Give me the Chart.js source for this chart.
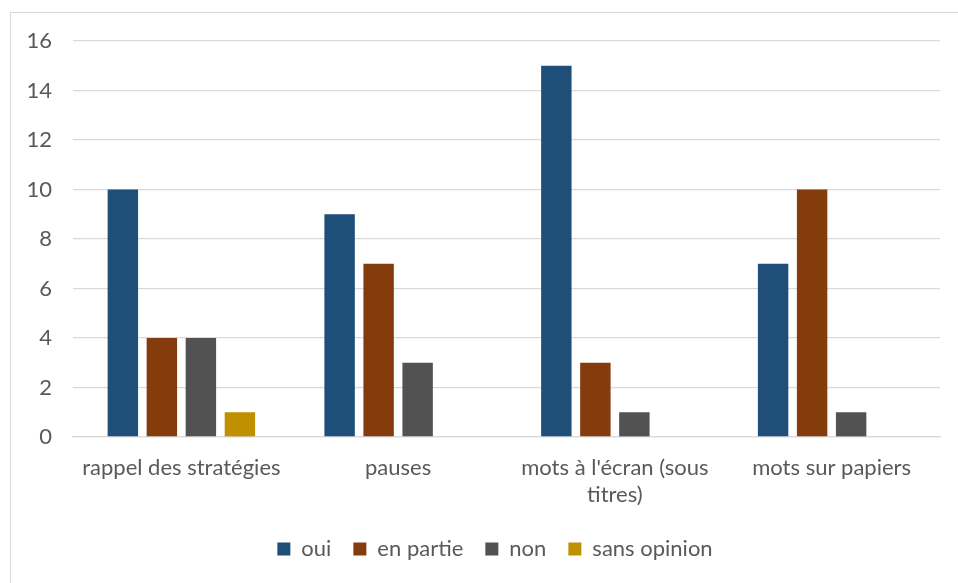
<!DOCTYPE html>
<html>
<head>
<meta charset="utf-8">
<script src="https://cdn.jsdelivr.net/npm/chart.js@4"></script>
<style>
html,body{margin:0;padding:0;background:#fff;}
#wrap{position:relative;width:958px;height:583px;}
#frame{position:absolute;left:10px;top:12px;width:960px;height:600px;border:1px solid #d9d9d9;box-sizing:border-box;pointer-events:none;}
canvas{position:absolute;left:0;top:0;}
</style>
</head>
<body>
<div id="wrap">
<canvas id="c" width="958" height="583"></canvas>
<div id="frame"></div>
</div>
<script>
const categories = ["rappel des stratégies", "pauses", ["mots à l'écran (sous", "titres)"], "mots sur papiers"];
const seriesNames = ["oui", "en partie", "non", "sans opinion"];
const oui = [10, 9, 15, 7];
const enPartie = [4, 7, 3, 10];
const non = [4, 3, 1, 1];
const sansOpinion = [1, 0, 0, 0];
const yTicks = [0, 2, 4, 6, 8, 10, 12, 14, 16];

const colors = ["#1F4E79", "#843C0C", "#525252", "#BF9000"];
const values = [oui, enPartie, non, sansOpinion];
const FONT = "Lato, 'Open Sans', sans-serif";
const TXT = "#595959";

// shift the legend so it is centred on the frame, as in the reference
const legendShift = {
  id: 'legendShift',
  afterLayout(chart) {
    const lg = chart.legend;
    if (lg) { lg.left += 25; lg.right += 25; }
  }
};

new Chart(document.getElementById('c'), {
  type: 'bar',
  data: {
    labels: categories,
    datasets: seriesNames.map((n, i) => ({
      label: n,
      data: values[i],
      backgroundColor: colors[i],
      borderWidth: 0,
      barPercentage: 0.78,
      categoryPercentage: 0.72
    }))
  },
  plugins: [legendShift],
  options: {
    responsive: false,
    animation: false,
    layout: { padding: { left: 0, right: 18, top: 41, bottom: 13 } },
    plugins: {
      legend: {
        position: 'bottom',
        labels: {
          font: { family: FONT, size: 22 },
          color: TXT,
          boxWidth: 13,
          boxHeight: 13,
          padding: 22
        }
      },
      tooltip: { enabled: false }
    },
    scales: {
      x: {
        grid: { display: false, drawTicks: false },
        border: { display: true, color: '#d9d9d9', width: 1.3 },
        ticks: {
          font: { family: FONT, size: 22 },
          color: TXT,
          maxRotation: 0,
          autoSkip: false,
          padding: 18,
          lineHeight: 1.2
        },
        afterFit: s => { s.height = 79; }
      },
      y: {
        min: 0, max: 16,
        afterBuildTicks: s => { s.ticks = yTicks.map(v => ({ value: v })); },
        grid: { color: '#d9d9d9', lineWidth: 1.3, drawTicks: false },
        border: { display: false },
        ticks: {
          font: { family: FONT, size: 22 },
          color: TXT,
          padding: 21
        },
        afterFit: s => { s.width = 73; }
      }
    }
  }
});
</script>
</body>
</html>
